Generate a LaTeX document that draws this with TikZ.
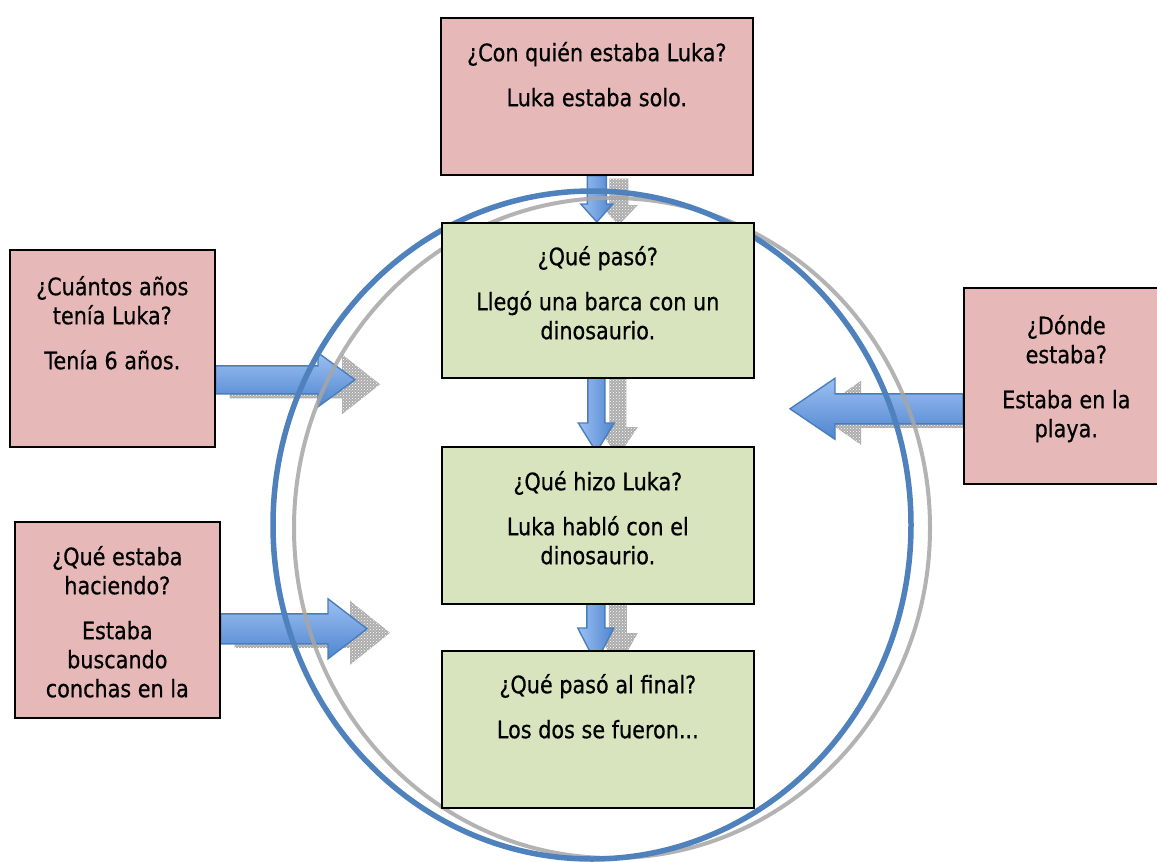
\documentclass[tikz,border=0pt]{standalone}
\usepackage{fontspec}
\setmainfont{DejaVu Sans}[FakeStretch=0.865, FakeBold=0.6]
\usetikzlibrary{calc,patterns}

\definecolor{pinkfill}{HTML}{E6B9B8}
\definecolor{greenfill}{HTML}{D7E4BD}
\definecolor{ringblue}{HTML}{4F81BD}
\definecolor{arrowlight}{HTML}{9CC0F2}
\definecolor{arrowdark}{HTML}{4F85CF}
\definecolor{arrowedge}{HTML}{4A7EBB}

\pgfdeclarelayer{back}
\pgfsetlayers{back,main}

\tikzset{
  box/.style={draw=black, line width=1.6pt, inner sep=0pt, anchor=north west},
  qbox/.style={box, fill=pinkfill},
  sbox/.style={box, fill=greenfill},
  boxtext/.style={anchor=north, align=center, inner sep=0pt,
    font=\fontsize{24}{29}\selectfont},
  arrowbody/.style={draw=arrowedge, line width=1.4pt, line join=miter},
  harrow/.style={arrowbody, top color=arrowlight, bottom color=arrowdark},
  varrow/.style={arrowbody, left color=arrowlight, right color=arrowdark},
  arrowshadow/.style={fill=gray!65, draw=none,
    postaction={pattern=crosshatch dots, pattern color=white}},
}

% block arrows: #1 style, #2 tail, #3 tip, #4 half shaft, #5 half head, #6 head length
\newcommand\downblock[6]{\path[#1] let \p1=#2, \p2=#3 in
  (\x1-#4,\y1) -- (\x1+#4,\y1) -- (\x1+#4,\y2+#6) -- (\x1+#5,\y2+#6) -- (\x1,\y2)
  -- (\x1-#5,\y2+#6) -- (\x1-#4,\y2+#6) -- cycle;}
\newcommand\rightblock[6]{\path[#1] let \p1=#2, \p2=#3 in
  (\x1,\y1+#4) -- (\x2-#6,\y1+#4) -- (\x2-#6,\y1+#5) -- (\x2,\y1)
  -- (\x2-#6,\y1-#5) -- (\x2-#6,\y1-#4) -- (\x1,\y1-#4) -- cycle;}
\newcommand\leftblock[6]{\path[#1] let \p1=#2, \p2=#3 in
  (\x1,\y1+#4) -- (\x2+#6,\y1+#4) -- (\x2+#6,\y1+#5) -- (\x2,\y1)
  -- (\x2+#6,\y1-#5) -- (\x2+#6,\y1-#4) -- (\x1,\y1-#4) -- cycle;}

\begin{document}
\begin{tikzpicture}[x=1pt, y=-1pt]
\useasboundingbox (0,0) rectangle (1157,862);

% question boxes
\node[qbox, minimum width=312pt, minimum height=157pt] (conq) at (440,17) {};
\node[qbox, minimum width=205pt, minimum height=197pt] (edad) at (9,249) {};
\node[qbox, minimum width=205pt, minimum height=196pt] (donde) at (963,287) {};
\node[qbox, minimum width=205pt, minimum height=196pt] (haciendo) at (14,521) {};
% story boxes
\node[sbox, minimum width=312pt, minimum height=155pt] (g1) at (441,222) {};
\node[sbox, minimum width=312pt, minimum height=157pt] (g2) at (441,446) {};
\node[sbox, minimum width=312pt, minimum height=157pt] (g3) at (441,650) {};

% texts
\node[boxtext] (tconq) at ($(conq.north)+(0,22)$)
  {\rule{0pt}{22pt}¿Con quién estaba Luka?\\[16pt]Luka estaba solo.};
\node[boxtext] (tedad) at ($(edad.north)+(0,24)$)
  {\rule{0pt}{22pt}¿Cuántos años\\tenía Luka?\\[16pt]Tenía 6 años.};
\node[boxtext] (tdonde) at ($(donde.north)+(0,25)$)
  {\rule{0pt}{22pt}¿Dónde\\estaba?\\[16pt]Estaba en la\\playa.};
\begin{scope}
  \clip (haciendo.north west) rectangle ($(haciendo.south east)+(0,-20)$);
  \node[boxtext] (thaciendo) at ($(haciendo.north)+(0,22)$)
    {\rule{0pt}{22pt}¿Qué estaba\\haciendo?\\[16pt]Estaba\\buscando\\conchas en la};
\end{scope}
\node[boxtext] (tg1) at ($(g1.north)+(0,21)$)
  {\rule{0pt}{22pt}¿Qué pasó?\\[16pt]Llegó una barca con un\\dinosaurio.};
\node[boxtext] (tg2) at ($(g2.north)+(0,22)$)
  {\rule{0pt}{22pt}¿Qué hizo Luka?\\[16pt]Luka habló con el\\dinosaurio.};
\node[boxtext] (tg3) at ($(g3.north)+(0,21)$)
  {\rule{0pt}{22pt}¿Qué pasó al final?\\[16pt]Los dos se fueron...};

% free tips of the side arrows
\coordinate (tipedad) at (355,379);
\coordinate (tiphac) at (367,628);
\coordinate (tipdonde) at (790,408);

\begin{pgfonlayer}{back}
  \fill[white] (0,0) rectangle (1157,862);
  % shadows of the arrows
  \downblock{arrowshadow}{($(conq.south)+(22,3)$)}{($(g1.north)+(22,3)$)}{9.5pt}{19pt}{20pt}
  \downblock{arrowshadow}{($(g1.south)+(20,-13)$)}{($(g2.north)+(20,11)$)}{8.5pt}{20pt}{30pt}
  \downblock{arrowshadow}{($(g2.south)+(20,-20)$)}{($(g3.north)+(20,18)$)}{9pt}{20pt}{35pt}
  \rightblock{arrowshadow}{($(edad.east)+(14,36)$)}{($(tipedad)+(25,5)$)}{14pt}{30pt}{38pt}
  \rightblock{arrowshadow}{($(haciendo.east)+(14,13)$)}{($(tiphac)+(23,5)$)}{15pt}{32pt}{40pt}
  \leftblock{arrowshadow}{($(donde.west)+(0,27)$)}{($(tipdonde)+(25,4)$)}{15pt}{32pt}{46pt}
  % blue arrows
  \downblock{varrow}{(conq.south)}{(g1.north)}{9.5pt}{16pt}{18pt}
  \downblock{varrow}{($(g1.south)+(-1.5,-19)$)}{($(g2.north)+(0,6)$)}{8.5pt}{18pt}{29pt}
  \downblock{varrow}{($(g2.south)+(-2,-26)$)}{($(g3.north)+(0,13)$)}{9pt}{18pt}{35pt}
  \rightblock{harrow}{($(edad.east)+(0,31.5)$)}{(tipedad)}{14pt}{27pt}{37pt}
  \rightblock{harrow}{($(haciendo.east)+(0,9)$)}{(tiphac)}{15pt}{30pt}{39pt}
  \leftblock{harrow}{($(donde.west)+(0,23)$)}{(tipdonde)}{15pt}{30.5pt}{45pt}
  % the ring and its shadow
  \draw[gray!70, line width=4pt, opacity=0.85] (612,528) ellipse [x radius=318, y radius=330];
  \draw[ringblue, line width=5.5pt] (592,525) ellipse [x radius=319, y radius=334];
\end{pgfonlayer}
\end{tikzpicture}
\end{document}
